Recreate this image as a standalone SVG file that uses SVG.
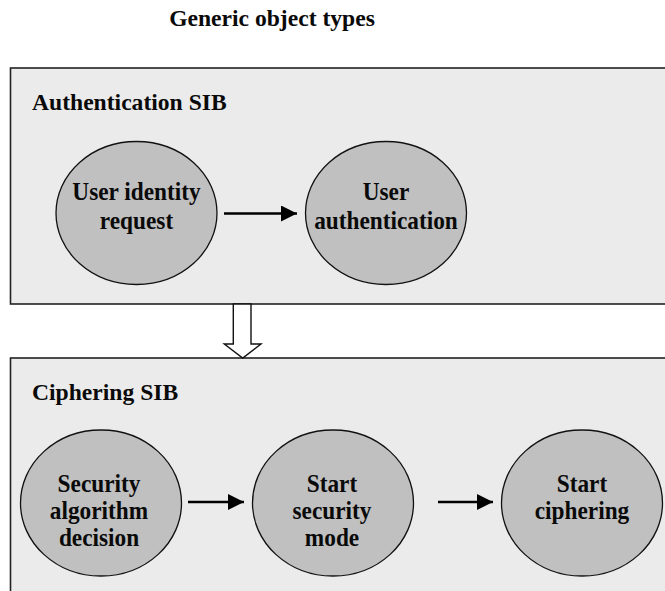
<svg xmlns="http://www.w3.org/2000/svg" width="665" height="591" viewBox="0 0 665 591">
<defs>
<style>
.t{font-family:"Liberation Serif","Times New Roman",serif;font-weight:bold;font-size:23.6px;fill:#0a0a0a}
.e{font-family:"Liberation Serif","Times New Roman",serif;font-weight:bold;font-size:23.3px;fill:#0a0a0a;text-anchor:middle}
.c{text-anchor:middle}
.box{fill:#ebebeb;stroke:#222;stroke-width:1.6}
.node{fill:#c0c0c0;stroke:#111;stroke-width:1.3}
.edge{stroke:#000;stroke-width:2.5;fill:none}
</style>
<marker id="ah" markerUnits="userSpaceOnUse" markerWidth="16" markerHeight="16" refX="14" refY="7" orient="auto" viewBox="0 0 14 14">
<path d="M0,0 L14,7 L0,14 Z" fill="#000"/>
</marker>
</defs>
<rect width="665" height="591" fill="#fff"/>
<text class="t c" x="272" y="26">Generic object types</text>

<g id="authSIB">
<rect class="box" x="10.5" y="68" width="670" height="236"/>
<text class="t" x="32" y="110">Authentication SIB</text>
</g>
<g id="cipherSIB">
<rect class="box" x="10.5" y="358" width="670" height="260"/>
<text class="t" x="32" y="400">Ciphering SIB</text>
</g>

<g id="n-user-identity">
<ellipse class="node" cx="136.5" cy="213" rx="80.5" ry="71.5"/>
<text class="e" transform="translate(136.5,200) scale(1,1.08)">User identity</text>
<text class="e" transform="translate(136.5,229) scale(1,1.08)">request</text>
</g>
<g id="n-user-auth">
<ellipse class="node" cx="386" cy="213" rx="80.5" ry="71.5"/>
<text class="e" transform="translate(386,200) scale(1,1.08)">User</text>
<text class="e" transform="translate(386,229) scale(1,1.08)">authentication</text>
</g>
<g id="n-sec-alg">
<ellipse class="node" cx="101" cy="503" rx="80.5" ry="73"/>
<text class="e" transform="translate(99,491.5) scale(1,1.08)">Security</text>
<text class="e" transform="translate(99,518.5) scale(1,1.08)">algorithm</text>
<text class="e" transform="translate(99,546) scale(1,1.08)">decision</text>
</g>
<g id="n-start-sec">
<ellipse class="node" cx="333" cy="503" rx="80.5" ry="73"/>
<text class="e" transform="translate(332,491.5) scale(1,1.08)">Start</text>
<text class="e" transform="translate(332,518.5) scale(1,1.08)">security</text>
<text class="e" transform="translate(332,546) scale(1,1.08)">mode</text>
</g>
<g id="n-start-ciph">
<ellipse class="node" cx="582" cy="503" rx="80.5" ry="73"/>
<text class="e" transform="translate(582,491.5) scale(1,1.08)">Start</text>
<text class="e" transform="translate(582,519) scale(1,1.08)">ciphering</text>
</g>

<g id="connectors">
<line class="edge" x1="224" y1="213.5" x2="297" y2="213.5" marker-end="url(#ah)"/>
<line class="edge" x1="188" y1="502" x2="244" y2="502" marker-end="url(#ah)"/>
<line class="edge" x1="438" y1="502" x2="493" y2="502" marker-end="url(#ah)"/>
<polygon points="233.3,304 233.3,344 224.3,344 242.7,358 261,344 251,344 251,304" fill="#fff" stroke="#111" stroke-width="1.4"/>
</g>
</svg>
